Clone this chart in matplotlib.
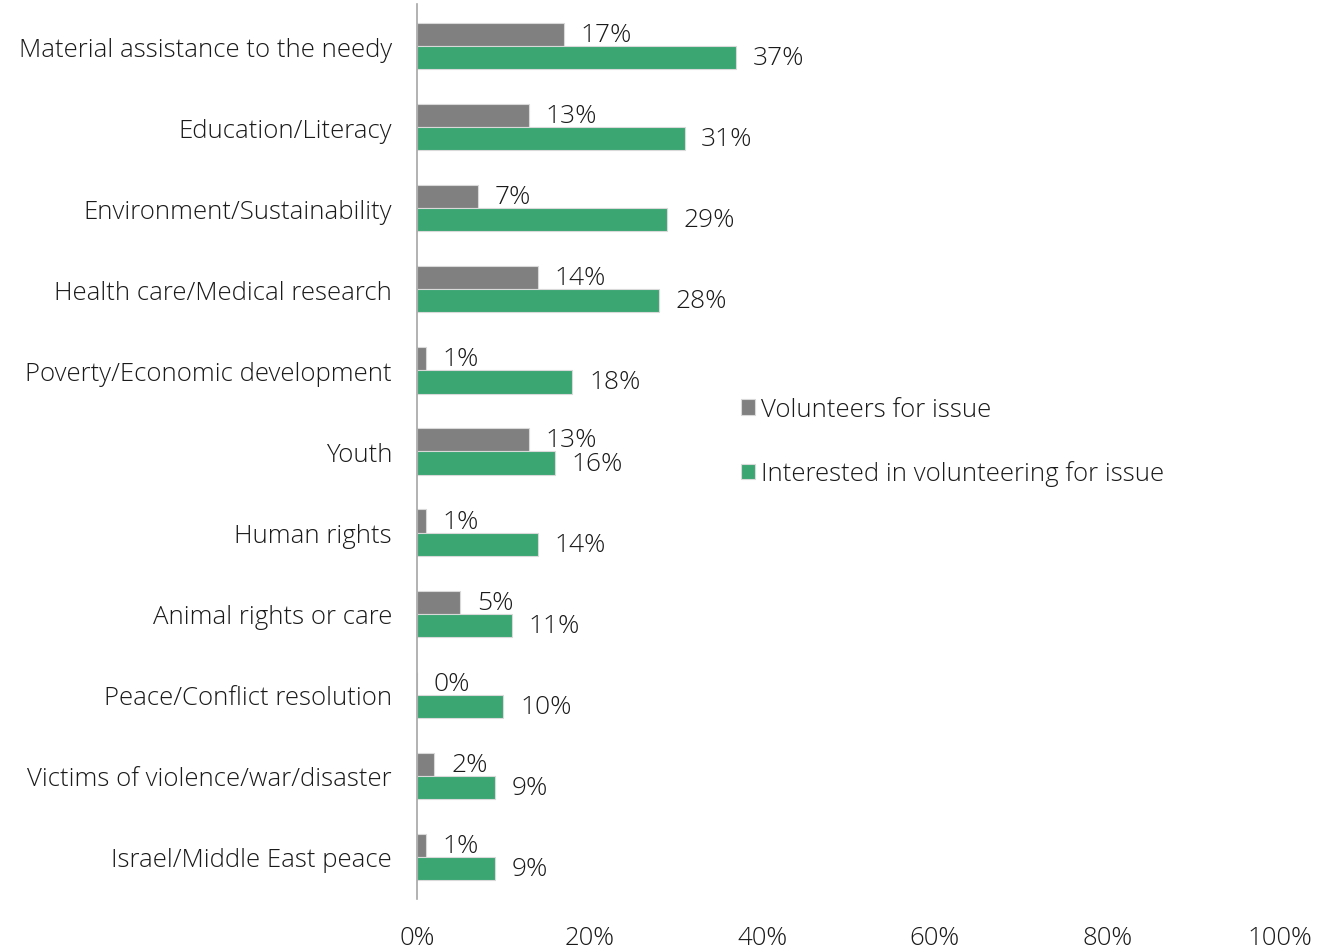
import numpy as np
import matplotlib.pyplot as plt
from matplotlib.ticker import FuncFormatter

plt.rcParams['font.family'] = ['Open Sans', 'DejaVu Sans']
plt.rcParams['font.weight'] = 'light'

issues = ["Material assistance to the needy", "Education/Literacy",
          "Environment/Sustainability", "Health care/Medical research",
          "Poverty/Economic development", "Youth", "Human rights",
          "Animal rights or care", "Peace/Conflict resolution",
          "Victims of violence/war/disaster", "Israel/Middle East peace"]
volunteers = [17, 13, 7, 14, 1, 13, 1, 5, 0, 2, 1]
interested = [37, 31, 29, 28, 18, 16, 14, 11, 10, 9, 9]

gray = "#808080"
green = "#3BA672"
txt = "#1a1a1a"
fs = 18.5

fig = plt.figure(figsize=(13.2, 9.53), dpi=100)
ax = fig.add_axes([0.316, 0.0556, 0.6536, 0.9392])

y = np.arange(len(issues))
h = 0.285
b1 = ax.barh(y - h / 2, volunteers, height=h, color=gray, edgecolor="#d9d9d9",
             linewidth=0.8, label="Volunteers for issue")
b2 = ax.barh(y + h / 2, interested, height=h, color=green, edgecolor="#d9d9d9",
             linewidth=0.8, label="Interested in volunteering for issue")

for bars, vals in ((b1, volunteers), (b2, interested)):
    for bar, v in zip(bars, vals):
        ax.annotate(f"{v}%", (bar.get_width(), bar.get_y() + bar.get_height() / 2),
                    xytext=(12, 0), textcoords="offset points",
                    va="center", ha="left", fontsize=19, color=txt)

ax.set_xlim(0, 100)
ax.set_ylim(len(issues) - 0.5 + 0.02, -0.52)
ax.set_yticks(y)
ax.set_yticklabels(issues)
ax.set_xticks(np.arange(0, 101, 20))
ax.xaxis.set_major_formatter(FuncFormatter(lambda v, p: f"{v:.0f}%"))
ax.tick_params(axis="both", length=0, labelsize=fs, colors=txt)
ax.tick_params(axis="y", pad=18)
ax.tick_params(axis="x", pad=19)

for s in ("top", "right", "bottom"):
    ax.spines[s].set_visible(False)
ax.spines["left"].set_color("#a6a6a6")
ax.spines["left"].set_linewidth(1.2)

ax.legend(loc="center left", bbox_to_anchor=(0.349, 0.511), frameon=False,
          fontsize=fs, handlelength=0.55, handleheight=0.55, handletextpad=0.2,
          labelspacing=1.5, labelcolor=txt)

fig.savefig("out.png", dpi=100)
